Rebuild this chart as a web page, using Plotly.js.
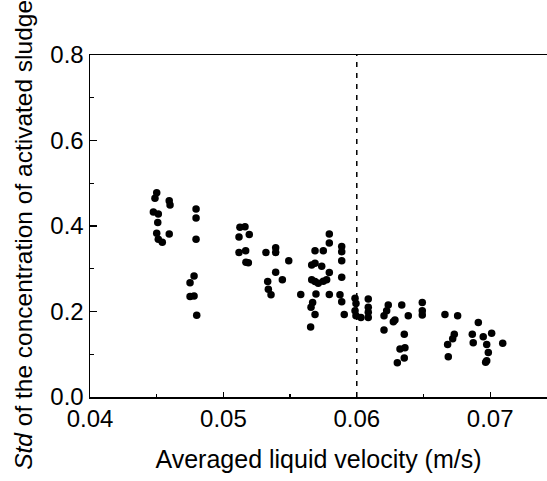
<!DOCTYPE html>
<html>
<head>
<meta charset="utf-8">
<script src="https://cdn.plot.ly/plotly-3.0.1.min.js"></script>
<style>html,body{margin:0;padding:0;background:#fff;}#chart{width:547px;height:481px;}</style>
</head>
<body>
<div id="chart"></div>
<script>
// Averaged liquid velocity (m/s)
var velocity = [
  0.0450, 0.04487, 0.04594, 0.0460, 0.04475, 0.04512, 0.04508, 0.0450, 0.04594, 0.04512, 0.04542,
  0.04795, 0.04795, 0.04795, 0.0478, 0.0475, 0.0475, 0.0478, 0.0480,
  0.05124, 0.05162, 0.05117, 0.05194, 0.05117, 0.05167, 0.05169, 0.05187,
  0.05319, 0.05392, 0.05392, 0.05490, 0.05392, 0.05442, 0.05332, 0.05337, 0.05357, 0.05580,
  0.05794, 0.05794, 0.05687, 0.05749, 0.05887, 0.05887, 0.05887, 0.05662, 0.05687, 0.05737,
  0.05794, 0.05887, 0.05662, 0.05687, 0.05711, 0.05749, 0.05774, 0.05694, 0.05794, 0.05874,
  0.05887, 0.05669, 0.05657, 0.05687, 0.05654, 0.05906,
  0.05987, 0.05994, 0.05987, 0.05994, 0.06031, 0.06086, 0.06086, 0.06086, 0.06086,
  0.06236, 0.06224, 0.06204, 0.06286, 0.06274, 0.06337, 0.06386, 0.06204, 0.06356,
  0.06324, 0.06361, 0.06356, 0.06304, 0.06491, 0.06491, 0.06491,
  0.06661, 0.06756, 0.06911, 0.06731, 0.06719, 0.06681, 0.06686, 0.06866, 0.06873,
  0.06948, 0.07011, 0.06974, 0.06986, 0.06974, 0.06966, 0.07094
];
// Std of the concentration of activated sludge
var stdConc = [
  0.478, 0.465, 0.459, 0.449, 0.433, 0.428, 0.408, 0.383, 0.381, 0.369, 0.362,
  0.440, 0.419, 0.369, 0.283, 0.267, 0.235, 0.236, 0.191,
  0.397, 0.398, 0.374, 0.380, 0.338, 0.342, 0.315, 0.314,
  0.338, 0.349, 0.338, 0.319, 0.292, 0.274, 0.270, 0.252, 0.239, 0.240,
  0.381, 0.360, 0.342, 0.342, 0.352, 0.340, 0.319, 0.309, 0.313, 0.306,
  0.291, 0.280, 0.274, 0.270, 0.266, 0.271, 0.274, 0.241, 0.240, 0.239,
  0.223, 0.221, 0.210, 0.193, 0.164, 0.193,
  0.231, 0.219, 0.202, 0.190, 0.186, 0.229, 0.210, 0.198, 0.186,
  0.215, 0.202, 0.190, 0.180, 0.176, 0.215, 0.190, 0.157, 0.147,
  0.112, 0.115, 0.091, 0.080, 0.221, 0.202, 0.192,
  0.193, 0.190, 0.174, 0.147, 0.136, 0.123, 0.094, 0.147, 0.127,
  0.141, 0.149, 0.123, 0.104, 0.085, 0.081, 0.126
];
var xTickVals = [0.04, 0.05, 0.06, 0.07];
var xTickText = ['0.04', '0.05', '0.06', '0.07'];
var yTickVals = [0.0, 0.2, 0.4, 0.6, 0.8];
var yTickText = ['0.0', '0.2', '0.4', '0.6', '0.8'];
var thresholdVelocity = [0.06, 0.06];
var thresholdSpan = [0, 0.8];
var xTitle = 'Averaged liquid velocity (m/s)';
var yTitle = '<i>Std</i> of the concentration of activated sludge';

var FONT = 'Liberation Sans, Arial, sans-serif';

var traces = [
  {
    x: thresholdVelocity, y: thresholdSpan, mode: 'lines', type: 'scatter',
    line: {color: '#000', width: 1.5, dash: '5px,6px'},
    hoverinfo: 'skip', showlegend: false
  },
  {
    x: velocity, y: stdConc, mode: 'markers', type: 'scatter',
    marker: {color: '#000', size: 7.5, line: {width: 0}},
    showlegend: false
  }
];

var layout = {
  width: 547, height: 481,
  margin: {l: 90, r: 0, t: 55, b: 84},
  paper_bgcolor: '#fff', plot_bgcolor: '#fff',
  font: {family: FONT, size: 24, color: '#000'},
  showlegend: false,
  xaxis: {
    range: [0.04, 0.07426],
    tickmode: 'array', tickvals: xTickVals, ticktext: xTickText,
    ticks: 'inside', ticklen: 5, tickwidth: 1.3, tickcolor: '#000',
    minor: {dtick: 0.005, ticks: 'inside', ticklen: 3, tickwidth: 1.2, tickcolor: '#000'},
    showline: true, linecolor: '#000', linewidth: 1.5, mirror: true,
    showgrid: false, zeroline: false,
    tickfont: {family: FONT, size: 24, color: '#000'},
    title: {text: xTitle, font: {family: FONT, size: 25, color: '#000'}, standoff: 19}
  },
  yaxis: {
    range: [0, 0.8],
    tickmode: 'array', tickvals: yTickVals, ticktext: yTickText,
    ticks: 'inside', ticklen: 7, tickwidth: 1.3, tickcolor: '#000',
    minor: {dtick: 0.1, ticks: 'inside', ticklen: 4, tickwidth: 1.2, tickcolor: '#000'},
    showline: true, linecolor: '#000', linewidth: 1.5, mirror: false,
    showgrid: false, zeroline: false,
    tickfont: {family: FONT, size: 24, color: '#000'}
  },
  annotations: [{
    text: yTitle, textangle: -90, showarrow: false,
    xref: 'paper', yref: 'paper', x: -0.146, y: 0.475,
    xanchor: 'center', yanchor: 'middle',
    font: {family: FONT, size: 24.5, color: '#000'}
  }]
};

Plotly.newPlot('chart', traces, layout, {displayModeBar: false, staticPlot: true});
</script>
</body>
</html>
